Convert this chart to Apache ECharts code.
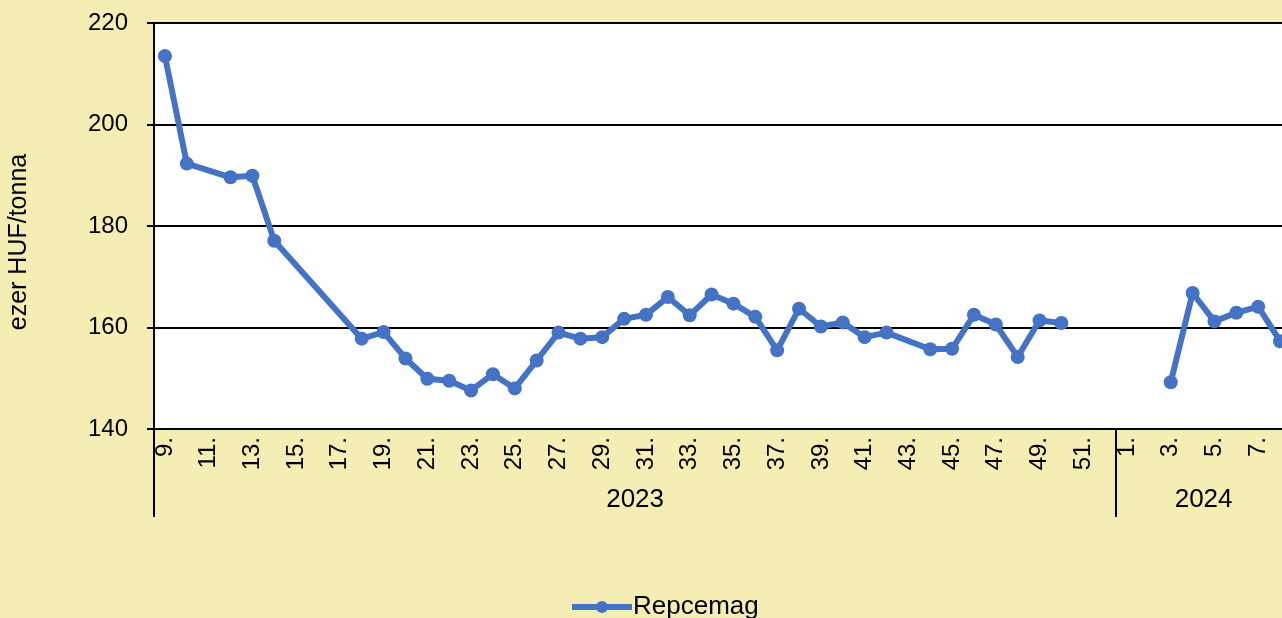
<!DOCTYPE html>
<html>
<head>
<meta charset="utf-8">
<script src="https://cdn.jsdelivr.net/npm/echarts@6/dist/echarts.min.js"></script>
<style>
  html, body { margin: 0; padding: 0; background: #f4eeb4; overflow: hidden; }
  #main { width: 1300px; height: 618px; }
</style>
</head>
<body>
<div id="main"></div>
<script>
// heti kategóriák (2023: 9-52. hét, 2024: 1-8. hét)
var weeks = ['9.','10.','11.','12.','13.','14.','15.','16.','17.','18.','19.','20.','21.','22.','23.','24.','25.','26.','27.','28.','29.','30.',
  '31.','32.','33.','34.','35.','36.','37.','38.','39.','40.','41.','42.','43.','44.','45.','46.','47.','48.','49.','50.','51.','52.',
  '1.','2.','3.','4.','5.','6.','7.','8.'];
var years = ['2023','2023','2023','2023','2023','2023','2023','2023','2023','2023','2023','2023','2023','2023','2023','2023','2023','2023','2023','2023','2023','2023',
  '2023','2023','2023','2023','2023','2023','2023','2023','2023','2023','2023','2023','2023','2023','2023','2023','2023','2023','2023','2023','2023','2023',
  '2024','2024','2024','2024','2024','2024','2024','2024'];
// Repcemag ára, ezer HUF/tonna
var values2023 = [213.5, 192.3, null, 189.6, 189.9, 177.1, null, null, null, 157.8, 159.1, 153.9, 149.9, 149.5, 147.6, 150.8, 148.0, 153.5, 159.0, 157.8, 158.1, 161.7,
  162.5, 166.0, 162.4, 166.5, 164.7, 162.1, 155.5, 163.7, 160.2, 161.0, 158.1, 159.0, null, 155.7, 155.8, 162.5, 160.6, 154.2, 161.4, 160.9, null, null];
var values2024 = [null, null, 149.2, 166.8, 161.2, 162.9, 164.1, 157.3];
var yTicks = [140, 160, 180, 200, 220];

var seriesName = 'Repcemag';
var font = 'Liberation Sans, Arial, sans-serif';

// két sorozat ugyanazzal a névvel, hogy az évek között ne legyen összekötve a vonal
var dataA = values2023.concat(values2024.map(function () { return null; }));
var dataB = values2023.map(function () { return null; }).concat(values2024);

// évfeliratok helye: az adott év kategóriáinak közepe
var yearStart = {};
var yearEnd = {};
years.forEach(function (y, i) {
  if (yearStart[y] === undefined) yearStart[y] = i;
  yearEnd[y] = i;
});
var yearLabelIdx = {};
Object.keys(yearStart).forEach(function (y) {
  yearLabelIdx[Math.floor((yearStart[y] + yearEnd[y]) / 2)] = y;
});

var myChart = echarts.init(document.getElementById('main'));

var option = {
  backgroundColor: '#f4eeb4',
  animation: false,
  textStyle: { fontFamily: font },
  grid: {
    left: 154,
    top: 23,
    height: 406,
    width: 1137,
    outerBoundsMode: 'none',
    show: true,
    backgroundColor: '#ffffff',
    borderWidth: 0
  },
  legend: {
    data: [seriesName],
    left: 564,
    top: 589,
    itemWidth: 60,
    itemHeight: 15,
    itemGap: 10,
    lineStyle: { width: 6 },
    textStyle: { fontSize: 26, color: '#000', fontFamily: font, padding: [0, 0, 0, -4] }
  },
  xAxis: [
    {
      type: 'category',
      data: weeks,
      boundaryGap: true,
      axisLine: { lineStyle: { color: '#000', width: 2 } },
      axisTick: { show: false },
      axisLabel: {
        interval: 1,
        rotate: 90,
        margin: 8,
        fontSize: 24,
        color: '#000',
        fontFamily: font
      }
    },
    {
      type: 'category',
      data: weeks,
      position: 'bottom',
      offset: 88,
      boundaryGap: true,
      axisLine: { show: false },
      axisTick: {
        show: true,
        inside: true,
        length: 88,
        interval: function (index) {
          return index === 0 || years[index] !== years[index - 1];
        },
        lineStyle: { color: '#000', width: 2 }
      },
      axisLabel: {
        inside: true,
        margin: 4,
        fontSize: 26,
        color: '#000',
        fontFamily: font,
        padding: [0, 0, 0, 22],
        interval: function (index) {
          return yearLabelIdx[index] !== undefined;
        },
        formatter: function (value, index) {
          return yearLabelIdx[index] || '';
        }
      }
    }
  ],
  yAxis: {
    type: 'value',
    min: yTicks[0],
    max: yTicks[yTicks.length - 1],
    interval: yTicks[1] - yTicks[0],
    name: 'ezer HUF/tonna',
    nameLocation: 'middle',
    nameGap: 122,
    nameTextStyle: { fontSize: 25, color: '#000', fontFamily: font, padding: [0, 32, 0, 0] },
    axisLine: { show: true, lineStyle: { color: '#000', width: 2 } },
    axisTick: { show: true, length: 7, lineStyle: { color: '#000', width: 2 } },
    axisLabel: { fontSize: 24, color: '#000', margin: 26, fontFamily: font },
    splitLine: { lineStyle: { color: '#000', width: 2 } }
  },
  series: [
    {
      name: seriesName,
      type: 'line',
      data: dataA,
      connectNulls: true,
      symbol: 'circle',
      symbolSize: 14,
      color: '#4472c4',
      lineStyle: { width: 6, color: '#4472c4' },
      itemStyle: { color: '#4472c4' }
    },
    {
      name: seriesName,
      type: 'line',
      data: dataB,
      connectNulls: true,
      symbol: 'circle',
      symbolSize: 14,
      color: '#4472c4',
      lineStyle: { width: 6, color: '#4472c4' },
      itemStyle: { color: '#4472c4' }
    }
  ]
};

myChart.setOption(option);
</script>
</body>
</html>
